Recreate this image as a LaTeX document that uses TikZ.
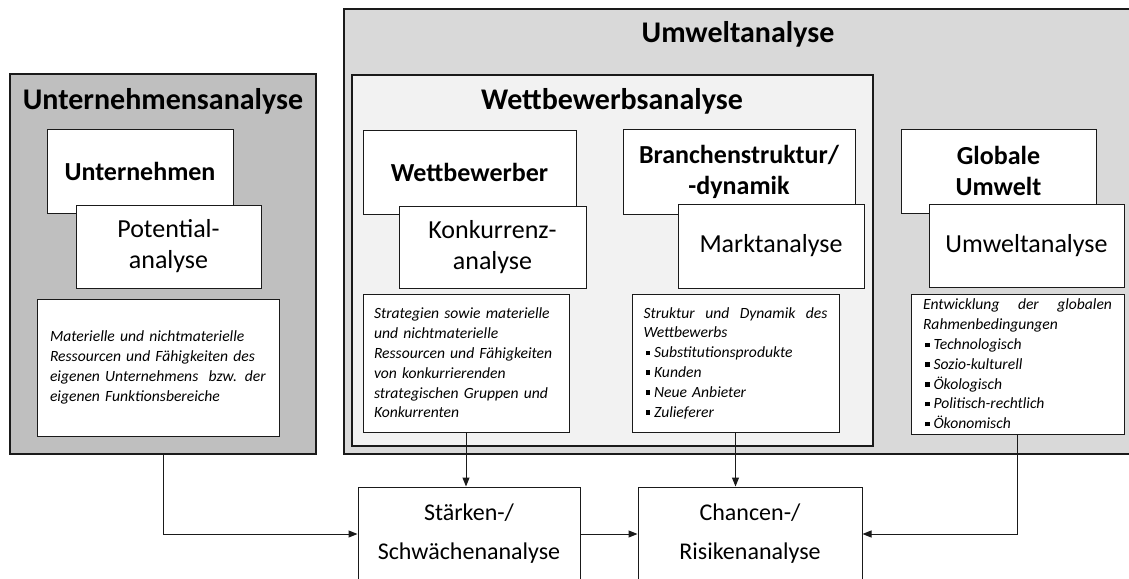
\documentclass[tikz,border=0pt]{standalone}
\usepackage{fontspec}
\setmainfont{Carlito}
\usetikzlibrary{arrows.meta}

\definecolor{grayA}{HTML}{BFBFBF}
\definecolor{grayB}{HTML}{D9D9D9}
\definecolor{grayC}{HTML}{F2F2F2}
\definecolor{edge}{HTML}{1A1A1A}

% small square bullet for the item lists
\newcommand\sqitem{\hspace*{2pt}\rule[2.5pt]{4.5pt}{4.5pt}\hspace{4pt}}
% a line of words spread over a given width
\newcommand\fullline[2]{\hbox to #1{#2}}
\newcommand\gap{\hfill}

\tikzset{
  panel/.style={draw=edge, line width=1.1pt, inner sep=0pt},
  box/.style={draw=edge, fill=white, line width=1pt, inner sep=0pt, align=center},
  paneltitle/.style={font=\fontsize{30}{36}\selectfont\bfseries, inner sep=0pt},
  headbox/.style={box, font=\fontsize{26}{31}\selectfont\bfseries},
  toolbox/.style={box, font=\fontsize{26}{31}\selectfont},
  notebox/.style={box, font=\fontsize{15.6}{19.8}\selectfont\itshape, align=left},
  resultbox/.style={box, font=\fontsize{24}{39}\selectfont},
  flow/.style={draw=edge, line width=1pt, -{Triangle[length=9pt,width=7pt]}}
}

\begin{document}
\begin{tikzpicture}[x=1pt, y=-1pt]
\useasboundingbox (0,0) rectangle (1129,578);

% ---------------- company side ----------------
\node[panel, fill=grayA, minimum width=306pt, minimum height=380pt] (ua) at (163,264) {};
\node[paneltitle] (uatitle) at (163,101) {Unternehmensanalyse};
\node[headbox, minimum width=186pt, minimum height=84pt] (unt) at (140,171) {Unternehmen};
\node[toolbox, minimum width=185pt, minimum height=83pt] (pot) at (168.5,246.5) {Potential-\\analyse};
\node[notebox, minimum width=242pt, minimum height=137pt, text width=216pt] (mat) at (158,367.5)
  {Materielle und nichtmaterielle\\Ressourcen und Fähigkeiten des\\eigenen Unternehmens \ bzw. der\\eigenen Funktionsbereiche};

% ---------------- environment side ----------------
\node[panel, fill=grayB, minimum width=801pt, minimum height=445pt] (um) at (744.5,231.5) {};
\node[paneltitle] (umtitle) at (738,34) {Umweltanalyse};
\node[panel, fill=grayC, minimum width=521pt, minimum height=371pt] (wb) at (612.5,260.5) {};
\node[paneltitle] (wbtitle) at (612,101) {Wettbewerbsanalyse};

% competitors
\node[headbox, minimum width=213pt, minimum height=84pt] (wet) at (469.5,172) {Wettbewerber};
\node[toolbox, minimum width=187pt, minimum height=82pt] (kon) at (492.5,247) {Konkurrenz-\\analyse};
\node[notebox, minimum width=206pt, minimum height=138pt, text width=184pt] (strat) at (466,363)
  {Strategien sowie materielle\\und nichtmaterielle\\Ressourcen und Fähigkeiten\\von konkurrierenden\\strategischen Gruppen und\\Konkurrenten};

% industry
\node[headbox, minimum width=232pt, minimum height=85pt] (bra) at (739,171.5) {Branchenstruktur/\\-dynamik};
\node[toolbox, minimum width=186pt, minimum height=84pt] (mar) at (771,246) {Marktanalyse};
\node[notebox, minimum width=207pt, minimum height=138pt, text width=184pt] (struk) at (735.5,363)
  {\fullline{184pt}{Struktur\gap und\gap Dynamik\gap des}\\Wettbewerbs\\\sqitem Substitutionsprodukte\\\sqitem Kunden\\\sqitem Neue Anbieter\\\sqitem Zulieferer};

% global environment
\node[headbox, minimum width=195pt, minimum height=84pt] (glo) at (998.5,171) {Globale\\Umwelt};
\node[toolbox, minimum width=195pt, minimum height=83pt] (uwa) at (1026.5,245.5) {Umweltanalyse};
\node[notebox, minimum width=213pt, minimum height=140pt, text width=189pt] (ent) at (1017.5,364)
  {\fullline{189pt}{Entwicklung\gap der\gap globalen}\\Rahmenbedingungen\\\sqitem Technologisch\\\sqitem Sozio-kulturell\\\sqitem Ökologisch\\\sqitem Politisch-rechtlich\\\sqitem Ökonomisch};

% ---------------- results ----------------
\node[resultbox, minimum width=222pt, minimum height=94pt] (sw) at (469,534) {Stärken-/\\Schwächenanalyse};
\node[resultbox, minimum width=224pt, minimum height=94pt] (ch) at (750,534) {Chancen-/\\Risikenanalyse};

% ---------------- connectors ----------------
\draw[flow] (ua.south) |- (sw.west);
\draw[flow] (strat.south) -- (strat.south |- sw.north);
\draw[flow] (struk.south) -- (struk.south |- ch.north);
\draw[flow] (sw.east) -- (ch.west);
\draw[flow] (ent.south) |- (ch.east);
\end{tikzpicture}
\end{document}
